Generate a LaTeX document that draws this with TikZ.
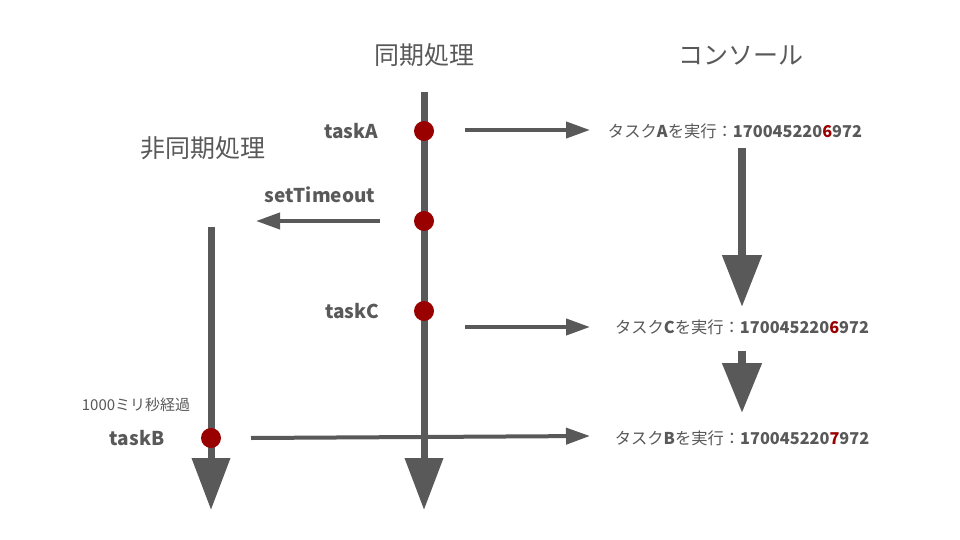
\documentclass[tikz,border=0pt]{standalone}
\usepackage{fontspec}
\setmainfont{Noto Sans CJK JP}
\usetikzlibrary{arrows.meta}
\definecolor{ink}{HTML}{595959}
\definecolor{dot}{HTML}{990000}
\tikzset{
  x=1pt,y=-1pt,
  dotnode/.style={circle,fill=dot,minimum size=20pt,inner sep=0pt},
  mainline/.style={ink,line width=7pt,-{Triangle[length=52pt,width=37pt]}},
  thinarrow/.style={ink,line width=4pt,-{Triangle[length=24pt,width=16pt]}},
  title/.style={text=ink,font=\fontsize{25}{28}\selectfont,inner sep=0pt},
  lbl/.style={text=ink,font=\bfseries\fontsize{19}{22}\selectfont,inner sep=0pt},
  console/.style={text=ink,font=\fontsize{16.3}{19}\selectfont,inner sep=0pt},
  small/.style={text=ink,font=\fontsize{15}{17}\selectfont,inner sep=0pt}
}
\newcommand{\hl}[1]{\textcolor{dot}{#1}}
\begin{document}
\begin{tikzpicture}
\useasboundingbox (0,0) rectangle (960,540);
\fill[white] (0,0) rectangle (960,540);
% titles
\node[title] (tsync) at (424,55) {同期処理};
\node[title] (tcons) at (741,55) {コンソール};
\node[title] (tasync) at (203,148) {非同期処理};
% main lines
\coordinate (s0) at (424,92);
\coordinate (s1) at (424,510);
\coordinate (a0) at (211,227);
\coordinate (a1) at (211,510);
\draw[mainline] (s0) -- (s1);
\draw[mainline] (a0) -- (a1);
% dots
\node[dotnode] (dA) at (424,131) {};
\node[dotnode] (dS) at (424,221) {};
\node[dotnode] (dC) at (424,311) {};
\node[dotnode] (dB) at (211,438) {};
% labels
\node[lbl] (lA) at (351,131) {taskA};
\node[lbl] (lS) at (320,195) {setTimeout};
\node[lbl] (lC) at (352,311) {taskC};
\node[lbl] (lB) at (137,438) {taskB};
\node[small] (wait) at (136,405) {1000ミリ秒経過};
% console
\node[console] (cA) at (735,131) {タスク\textbf{A}を実行：\textbf{170045220\hl{6}972}};
\node[console] (cC) at (742,327) {タスク\textbf{C}を実行：\textbf{170045220\hl{6}972}};
\node[console] (cB) at (742,438) {タスク\textbf{B}を実行：\textbf{170045220\hl{7}972}};
% horizontal arrows
\coordinate (hA0) at (465,130); \coordinate (hA1) at (590,130);
\coordinate (hS0) at (380,221); \coordinate (hS1) at (256,221);
\coordinate (hC0) at (465,327); \coordinate (hC1) at (590,327);
\coordinate (hB0) at (251,438); \coordinate (hB1) at (590,436);
\draw[thinarrow] (hA0) -- (hA1);
\draw[thinarrow] (hS0) -- (hS1);
\draw[thinarrow] (hC0) -- (hC1);
\draw[thinarrow] (hB0) -- (hB1);
% console down arrows
\coordinate (v10) at (742,148); \coordinate (v11) at (742,307);
\coordinate (v20) at (742,351); \coordinate (v21) at (742,413);
\draw[ink,line width=8pt,-{Triangle[length=52pt,width=38pt]}] (v10) -- (v11);
\draw[ink,line width=8pt,-{Triangle[length=50pt,width=38pt]}] (v20) -- (v21);
\end{tikzpicture}
\end{document}
